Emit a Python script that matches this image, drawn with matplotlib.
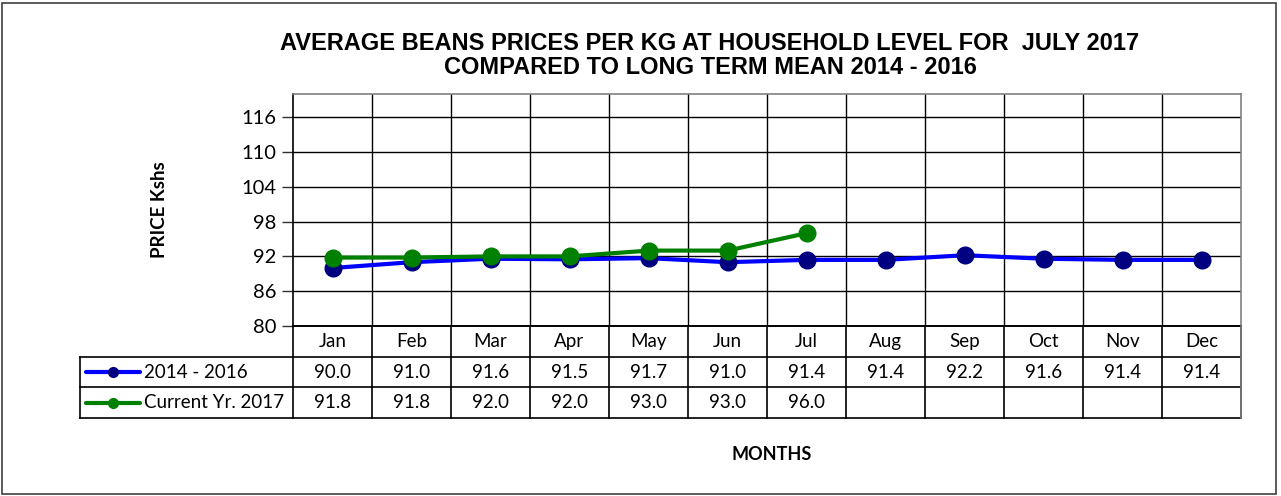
import matplotlib
matplotlib.use("Agg")
import matplotlib.pyplot as plt
from matplotlib.patches import Rectangle
import numpy as np

months = ["Jan", "Feb", "Mar", "Apr", "May", "Jun", "Jul", "Aug", "Sep", "Oct", "Nov", "Dec"]
long_term = [90.0, 91.0, 91.6, 91.5, 91.7, 91.0, 91.4, 91.4, 92.2, 91.6, 91.4, 91.4]
current = [91.8, 91.8, 92.0, 92.0, 93.0, 93.0, 96.0]
series_names = ["2014 - 2016", "Current Yr. 2017"]
yticks = [80, 86, 92, 98, 104, 110, 116]

W, H = 1281, 496
fig = plt.figure(figsize=(W / 100, H / 100), dpi=100)
fig.patch.set_facecolor("white")

tick_font = ["Lato", "DejaVu Sans"]
title_font = ["Liberation Sans Narrow", "Liberation Sans", "DejaVu Sans"]

def fx(px):
    return px / W

def fy(py):
    return (H - py) / H

# figure frame
fig.add_artist(Rectangle((fx(2), fy(494)), fx(1276) - fx(2), fy(3) - fy(494),
                         transform=fig.transFigure, fill=False, edgecolor="#404040", lw=1.2))

L, R, T, B = 293, 1241, 94, 326
ax = fig.add_axes([fx(L), fy(B), fx(R) - fx(L), fy(T) - fy(B)])
n = len(months)
x = np.arange(n) + 0.5
ax.set_xlim(0, n)
ax.set_ylim(80, 120)
ax.set_yticks(yticks)
ax.set_yticklabels([str(v) for v in yticks], fontsize=14.5, family=tick_font)
ax.tick_params(axis="y", length=8, width=1, color="#303030", pad=4)
ax.set_xticks([])
for v in yticks[1:]:
    ax.axhline(v, color="black", lw=1, zorder=1)
for i in range(1, n):
    ax.axvline(i, color="black", lw=1, zorder=1)
ax.spines["left"].set_color("black")
ax.spines["bottom"].set_color("black")
ax.spines["top"].set_color("#808080")
ax.spines["right"].set_color("#808080")
for s in ax.spines.values():
    s.set_linewidth(1.2)

ax.plot(x, long_term, color="#0000FF", lw=3, marker="o", ms=12,
        mfc="#000080", mec="#000080", zorder=3)
ax.plot(x[:len(current)], current, color="#008000", lw=3, marker="o", ms=12,
        mfc="#008000", mec="#008000", zorder=4)

ax.set_ylabel("PRICE Kshs", fontsize=13.5, fontweight="bold", family=tick_font)
ax.yaxis.set_label_coords((168 - L) / (R - L), 0.5)

fig.text(fx(710), fy(43), "AVERAGE BEANS PRICES PER KG AT HOUSEHOLD LEVEL FOR  JULY 2017",
         ha="center", va="center", fontsize=17, fontweight="bold", family=title_font)
fig.text(fx(710), fy(67), "COMPARED TO LONG TERM MEAN 2014 - 2016",
         ha="center", va="center", fontsize=17, fontweight="bold", family=title_font)

# data table
TT, TB = 326, 418
tax = fig.add_axes([fx(L), fy(TB), fx(R) - fx(L), fy(TT) - fy(TB)])
tax.set_xlim(0, n)
tax.set_ylim(3, 0)
tax.axis("off")
cw = (R - L) / n
xl = (80 - L) / cw
kw = dict(color="black", lw=1.2, clip_on=False)
tax.plot([0, n], [0, 0], **kw)
for yy in [1, 2, 3]:
    tax.plot([xl, n], [yy, yy], **kw)
for i in range(0, n + 1):
    tax.plot([i, i], [0, 3], **kw)
tax.plot([xl, xl], [1, 3], **kw)
tax.plot([n, n], [0, 3], color="#808080", lw=1.2, clip_on=False)

cell_font = dict(fontsize=13.5, family=tick_font, ha="center", va="center")
for i, m in enumerate(months):
    tax.text(i + 0.5, 0.5, m, **cell_font)
for i, v in enumerate(long_term):
    tax.text(i + 0.5, 1.5, f"{v:.1f}", **cell_font)
for i, v in enumerate(current):
    tax.text(i + 0.5, 2.5, f"{v:.1f}", **cell_font)

colors = [("#0000FF", "#000080"), ("#008000", "#008000")]
for r, (name, (lc, mc)) in enumerate(zip(series_names, colors)):
    yy = 1.5 + r
    x0 = (86 - L) / cw
    x1 = (140 - L) / cw
    tax.plot([x0, x1], [yy, yy], color=lc, lw=3, clip_on=False, solid_capstyle="round")
    tax.plot([(x0 + x1) / 2], [yy], marker="o", ms=7, color=mc, clip_on=False)
    tax.text((144 - L) / cw, yy, name, fontsize=13.5, family=tick_font, ha="left", va="center")

fig.text(fx(772), fy(455), "MONTHS", ha="center", va="center", fontsize=13,
         fontweight="bold", family=tick_font)

fig.savefig("out.png", dpi=100, facecolor="white")
